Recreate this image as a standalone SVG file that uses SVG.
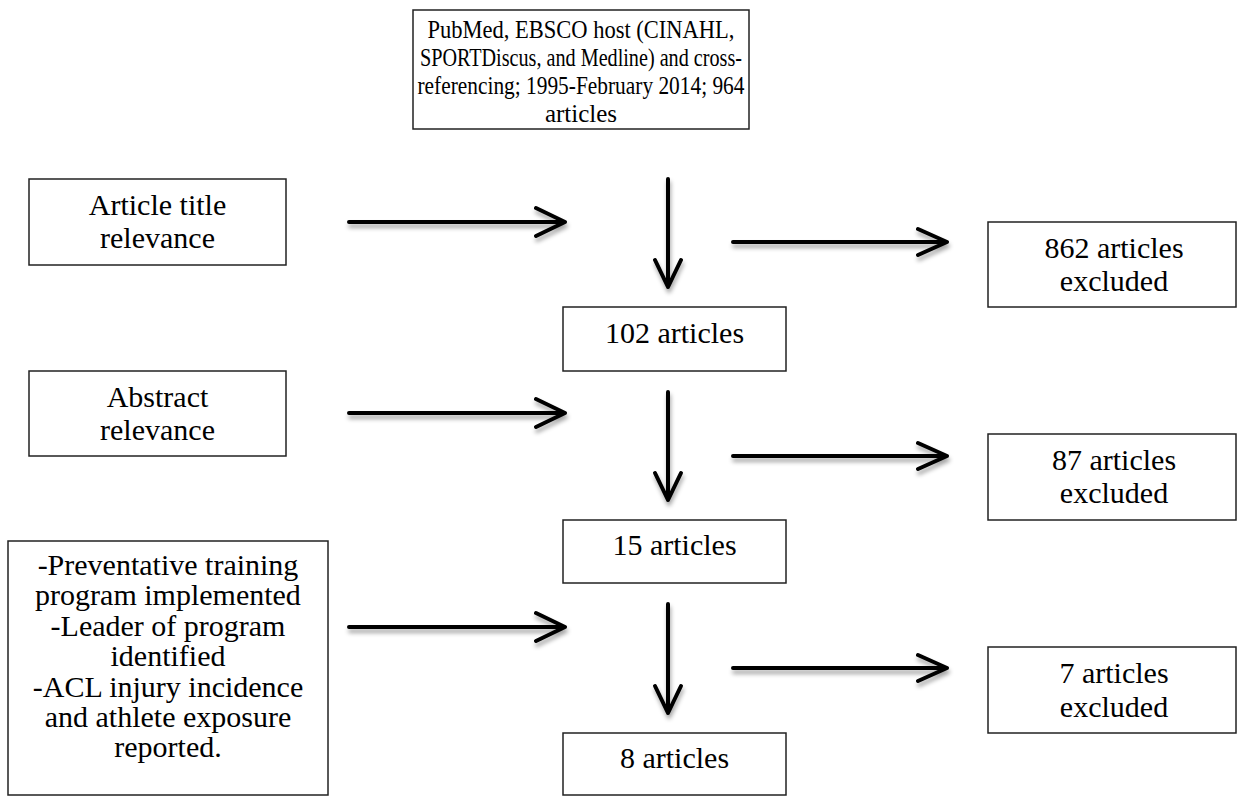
<svg xmlns="http://www.w3.org/2000/svg" width="1240" height="796" viewBox="0 0 1240 796">
<defs>
<style>
.box{fill:#fff;stroke:#222;stroke-width:1.5}
.t{font-family:"Liberation Serif","Times New Roman",serif;font-size:30px;fill:#000;text-anchor:middle}
.tt{font-family:"Liberation Serif","Times New Roman",serif;font-size:25px;fill:#000;text-anchor:middle}
.arr{fill:none;stroke:#000;stroke-width:4;stroke-linecap:round;stroke-linejoin:round}
</style>
<filter id="sh" x="-20%" y="-50%" width="140%" height="200%">
<feDropShadow dx="1" dy="4" stdDeviation="2" flood-color="#000" flood-opacity="0.35"/>
</filter>
</defs>
<rect width="1240" height="796" fill="#fff"/>
<g id="n-source">
<rect class="box" x="413" y="10" width="336" height="119"/>
<text class="tt" x="581" y="38" textLength="307" lengthAdjust="spacingAndGlyphs">PubMed, EBSCO host (CINAHL,</text>
<text class="tt" x="581" y="66" textLength="322" lengthAdjust="spacingAndGlyphs">SPORTDiscus, and Medline) and cross-</text>
<text class="tt" x="581" y="94" textLength="327" lengthAdjust="spacingAndGlyphs">referencing; 1995-February 2014; 964</text>
<text class="tt" x="581" y="122">articles</text>
</g>
<g id="n-title">
<rect class="box" x="29" y="179" width="257" height="86"/>
<text class="t" x="157.5" y="215">Article title</text>
<text class="t" x="157.5" y="248">relevance</text>
</g>
<g id="n-abstract">
<rect class="box" x="29" y="371" width="257" height="85"/>
<text class="t" x="157.5" y="407">Abstract</text>
<text class="t" x="157.5" y="440">relevance</text>
</g>
<g id="n-criteria">
<rect class="box" x="8" y="541" width="320" height="254"/>
<text class="t" x="168" y="575">-Preventative training</text>
<text class="t" x="168" y="605">program implemented</text>
<text class="t" x="168" y="636">-Leader of program</text>
<text class="t" x="168" y="666">identified</text>
<text class="t" x="168" y="697">-ACL injury incidence</text>
<text class="t" x="168" y="727">and athlete exposure</text>
<text class="t" x="168" y="757">reported.</text>
</g>
<g id="n-102">
<rect class="box" x="563" y="307" width="223" height="64"/>
<text class="t" x="674.5" y="343">102 articles</text>
</g>
<g id="n-15">
<rect class="box" x="563" y="520" width="223" height="63"/>
<text class="t" x="674.5" y="555">15 articles</text>
</g>
<g id="n-8">
<rect class="box" x="563" y="733" width="223" height="62"/>
<text class="t" x="674.5" y="768">8 articles</text>
</g>
<g id="n-862">
<rect class="box" x="988" y="222" width="248" height="85"/>
<text class="t" x="1114" y="258">862 articles</text>
<text class="t" x="1114" y="291">excluded</text>
</g>
<g id="n-87">
<rect class="box" x="988" y="434" width="248" height="86"/>
<text class="t" x="1114" y="470">87 articles</text>
<text class="t" x="1114" y="503">excluded</text>
</g>
<g id="n-7">
<rect class="box" x="988" y="647" width="248" height="86"/>
<text class="t" x="1114" y="683">7 articles</text>
<text class="t" x="1114" y="717">excluded</text>
</g>
<g id="connectors" filter="url(#sh)">
<path class="arr" d="M349 222H565M536 208L565 222L536 236"/>
<path class="arr" d="M349 413H565M536 399L565 413L536 427"/>
<path class="arr" d="M349 627H565M536 613L565 627L536 641"/>
<path class="arr" d="M668 179V287M655 260L668 287L681 260"/>
<path class="arr" d="M668 392V500M655 473L668 500L681 473"/>
<path class="arr" d="M668 604V713M655 686L668 713L681 686"/>
<path class="arr" d="M733 242H947M918 229L947 242L918 255"/>
<path class="arr" d="M733 456H947M918 443L947 456L918 469"/>
<path class="arr" d="M733 668H947M918 655L947 668L918 681"/>
</g>
</svg>
